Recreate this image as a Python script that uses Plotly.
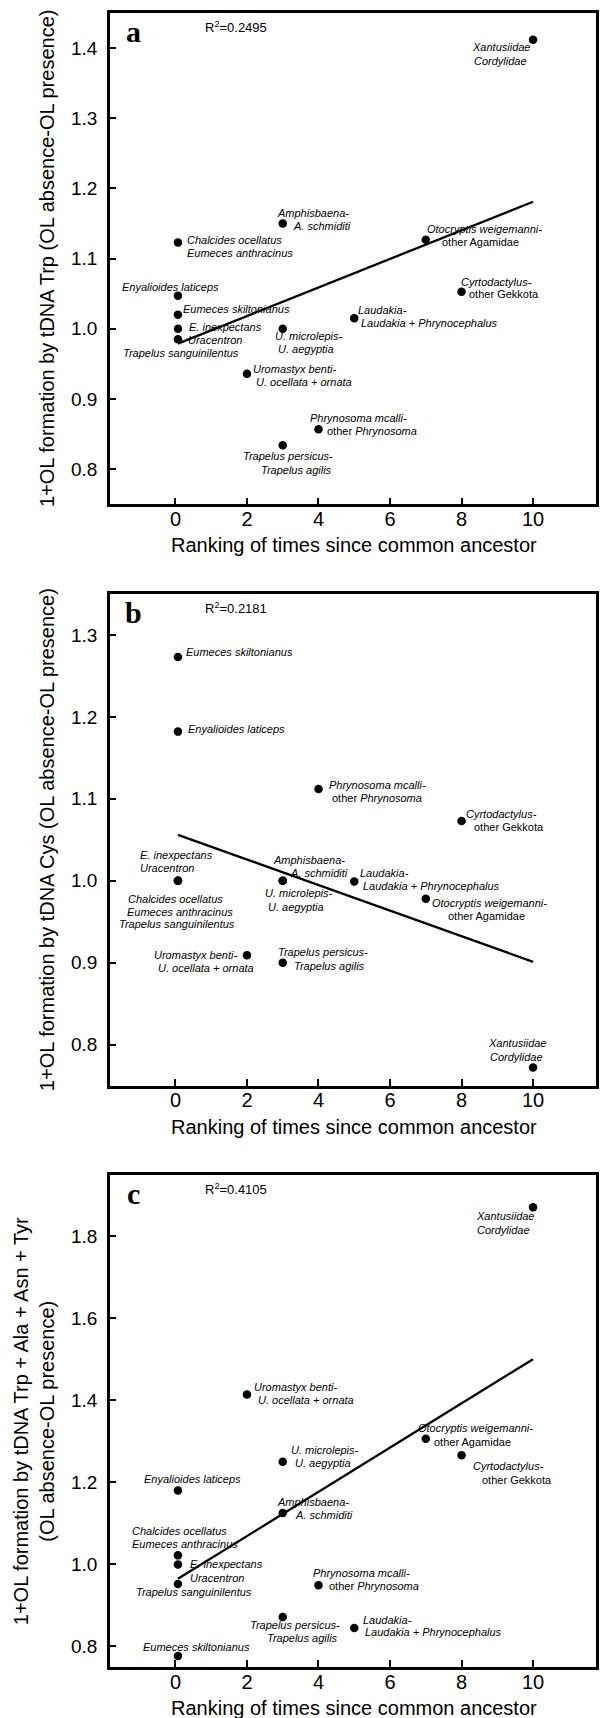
import plotly.graph_objects as go

# ---------------- data ----------------
groups = [
    "Xantusiidae-Cordylidae", "Amphisbaena-A. schmiditi",
    "Chalcides ocellatus / Eumeces anthracinus", "Otocryptis weigemanni-other Agamidae",
    "Cyrtodactylus-other Gekkota", "Enyalioides laticeps", "Eumeces skiltonianus",
    "E. inexpectans / Uracentron", "Trapelus sanguinilentus", "U. microlepis-U. aegyptia",
    "Laudakia-Laudakia + Phrynocephalus", "Uromastyx benti-U. ocellata + ornata",
    "Phrynosoma mcalli-other Phrynosoma", "Trapelus persicus-Trapelus agilis",
]
label_lines = [
    ["<i>Xantusiidae</i>", "<i>Cordylidae</i>"],
    ["<i>Amphisbaena-</i>", "<i>A. schmiditi</i>"],
    ["<i>Chalcides ocellatus</i>", "<i>Eumeces anthracinus</i>"],
    ["<i>Otocryptis weigemanni-</i>", "other Agamidae"],
    ["<i>Cyrtodactylus-</i>", "other Gekkota"],
    ["<i>Enyalioides laticeps</i>"],
    ["<i>Eumeces skiltonianus</i>"],
    ["<i>E. inexpectans</i>", "<i>Uracentron</i>"],
    ["<i>Trapelus sanguinilentus</i>"],
    ["<i>U. microlepis-</i>", "<i>U. aegyptia</i>"],
    ["<i>Laudakia-</i>", "<i>Laudakia + Phrynocephalus</i>"],
    ["<i>Uromastyx benti-</i>", "<i>U. ocellata + ornata</i>"],
    ["<i>Phrynosoma mcalli-</i>", "other <i>Phrynosoma</i>"],
    ["<i>Trapelus persicus-</i>", "<i>Trapelus agilis</i>"],
]
rank = [10, 3, 0.07, 7, 8, 0.07, 0.07, 0.07, 0.07, 3, 5, 2, 4, 3]
trp = [1.412, 1.150, 1.123, 1.127, 1.053, 1.047, 1.020, 1.000, 0.985, 1.000, 1.015, 0.936, 0.857, 0.834]
cys = [0.772, 1.000, 1.000, 0.978, 1.073, 1.182, 1.273, 1.000, 1.000, 1.000, 0.999, 0.909, 1.112, 0.900]
combined = [1.870, 1.125, 1.022, 1.306, 1.266, 1.180, 0.777, 1.000, 0.952, 1.250, 0.845, 1.414, 0.949, 0.872]

fit_x = [0.07, 10]
fit_trp = [0.979, 1.181]
fit_cys = [1.056, 0.901]
fit_combined = [0.965, 1.500]

r2_texts = ["R<sup>2</sup>=0.2495", "R<sup>2</sup>=0.2181", "R<sup>2</sup>=0.4105"]
panel_letters = ["a", "b", "c"]
y_titles = [
    "1+OL formation by tDNA Trp (OL absence-OL presence)",
    "1+OL formation by tDNA Cys (OL absence-OL presence)",
    "1+OL formation by tDNA Trp + Ala + Asn + Tyr<br>(OL absence-OL presence)",
]
x_title = "Ranking of times since common ancestor"
x_ticks = [0, 2, 4, 6, 8, 10]
y_ticks = [
    [0.8, 0.9, 1.0, 1.1, 1.2, 1.3, 1.4],
    [0.8, 0.9, 1.0, 1.1, 1.2, 1.3],
    [0.8, 1.0, 1.2, 1.4, 1.6, 1.8],
]

# ---------------- layout (positions in pixels) ----------------
W, H = 601, 1718
ML, MR, MT, MB = 110, 2, 13, 51
PW, PH = W - ML - MR, H - MT - MB

def px_x(px):
    return (px - ML) / PW

def px_y(py):
    return (H - MB - py) / PH

panels_px = [(13, 504.3), (594, 1085.5), (1174.5, 1667)]
y_ranges = [[0.75, 1.45], [0.75, 1.35], [0.75, 1.95]]
x_range = [-1.83, 11.76]

# label offsets (dx, dy in px relative to the marker; anchor)
offsets = [
    [  # panel a
        [(-62, 7.6, "left"), (-60, 21, "left")],
        [(-7, -11, "left"), (9, 2.7, "left")],
        [(7.6, -2.7, "left"), (7.6, 10.7, "left")],
        [(0, -10.5, "left"), (15, 2, "left")],
        [(-2, -10, "left"), (6.5, 2.6, "left")],
        [(-57, -8.7, "left")],
        [(4.5, -6, "left")],
        [(10, -1.4, "left"), (9, 11.6, "left")],
        [(-55.6, 13.4, "left")],
        [(-8.5, 7, "left"), (-5.4, 20, "left")],
        [(2.5, -8.3, "left"), (6, 4.4, "left")],
        [(5.3, -4.4, "left"), (8.4, 8.6, "left")],
        [(-9, -11, "left"), (7.5, 2, "left")],
        [(5.7, 11, "center"), (13.6, 24.4, "center")],
    ],
    [  # panel b
        [(-15.2, -24, "center"), (-17, -10.6, "center")],
        [(-11, -20.7, "left"), (6, -8, "left")],
        [(-2.5, 18.6, "center"), (2.5, 31.3, "center")],
        [(5, 4.3, "left"), (21.3, 17, "left")],
        [(3.4, -6.7, "left"), (11.7, 5.7, "left")],
        [(9, -3, "left")],
        [(7, -5.3, "left")],
        [(-39.4, -25.7, "left"), (-39.4, -12.4, "left")],
        [(-0.9, 43.3, "center")],
        [(-19, 12.6, "left"), (-16, 26, "left")],
        [(4.3, -9, "left"), (7.6, 4.4, "left")],
        [(-8.8, 0, "right"), (7.7, 13, "right")],
        [(9.6, -4, "left"), (13, 9.2, "left")],
        [(-5.7, -10.4, "left"), (10.4, 3, "left")],
    ],
    [  # panel c
        [(-58.4, 8.4, "left"), (-56.7, 22.4, "left")],
        [(-6.5, -10.6, "left"), (11.2, 2, "left")],
        [(-46.7, -24.4, "left"), (-46.7, -11.4, "left")],
        [(-8.7, -11, "left"), (7.3, 3.4, "left")],
        [(10, 11, "left"), (19.4, 24.3, "left")],
        [(14.6, -11.7, "center")],
        [(18.3, -9.3, "center")],
        [(11.5, 0, "left"), (11.5, 13.6, "left")],
        [(16, 8, "center")],
        [(7.3, -11.7, "left"), (11.2, 1.6, "left")],
        [(7.3, -8.3, "left"), (10, 4, "left")],
        [(6.5, -7.3, "left"), (10.4, 6, "left")],
        [(-6.7, -12.4, "left"), (10, 1, "left")],
        [(11.9, 8.4, "center"), (19.4, 21.4, "center")],
    ],
]

SANS = "Liberation Sans, Arial, sans-serif"
SERIF = "Liberation Serif, Times New Roman, serif"

series = [trp, cys, combined]
fits = [fit_trp, fit_cys, fit_combined]

fig = go.Figure()
annotations = []
layout_axes = {}

for i in range(3):
    xa = "x" if i == 0 else f"x{i+1}"
    ya = "y" if i == 0 else f"y{i+1}"
    top_px, bot_px = panels_px[i]
    dom = [px_y(bot_px), px_y(top_px)]

    fig.add_trace(go.Scatter(
        x=fit_x, y=fits[i], mode="lines", xaxis=xa, yaxis=ya,
        line=dict(color="black", width=2.3), showlegend=False, hoverinfo="skip"))
    fig.add_trace(go.Scatter(
        x=rank, y=series[i], mode="markers", xaxis=xa, yaxis=ya,
        marker=dict(color="black", size=8.5), text=groups, showlegend=False))

    axis_common = dict(
        showline=True, mirror=True, linecolor="black", linewidth=2.5,
        ticks="inside", tickcolor="black", tickwidth=2,
        showgrid=False, zeroline=False,
    )
    layout_axes["xaxis" if i == 0 else f"xaxis{i+1}"] = dict(
        axis_common, domain=[0, 1], range=x_range, anchor=ya,
        tickvals=x_ticks, ticklen=7, ticklabelstandoff=-5,
        tickfont=dict(family=SANS, size=20, color="black"))
    layout_axes["yaxis" if i == 0 else f"yaxis{i+1}"] = dict(
        axis_common, domain=dom, range=y_ranges[i], anchor=xa,
        tickvals=y_ticks[i], tickformat=".1f", ticklen=6, ticklabelstandoff=6,
        tickfont=dict(family=SANS, size=19, color="black"))

    # point labels
    for g in range(len(groups)):
        for line_txt, (dx, dy, anc) in zip(label_lines[g], offsets[i][g]):
            annotations.append(dict(
                x=rank[g], y=series[i][g], xref=xa, yref=ya,
                text=line_txt, showarrow=False, xanchor=anc, yanchor="middle",
                xshift=dx, yshift=-dy, borderpad=0,
                font=dict(family=SANS, size=11, color="black")))

    # x-axis title
    annotations.append(dict(
        x=px_x(355.9), y=px_y(bot_px + 41), xref="paper", yref="paper",
        text=x_title, showarrow=False, xanchor="center", yanchor="middle",
        font=dict(family=SANS, size=20, color="black")))
    # y-axis title
    annotations.append(dict(
        x=px_x(46 if i < 2 else 33), y=px_y((top_px + bot_px) / 2),
        xref="paper", yref="paper", text=y_titles[i], textangle=-90,
        showarrow=False, xanchor="center", yanchor="middle",
        font=dict(family=SANS, size=20, color="black")))
    # R2
    annotations.append(dict(
        x=px_x(204), y=px_y(top_px + 14), xref="paper", yref="paper",
        text=r2_texts[i], showarrow=False, xanchor="left", yanchor="middle",
        font=dict(family=SANS, size=13, color="black")))
    # panel letter
    annotations.append(dict(
        x=px_x(134), y=px_y(top_px + 18.5), xref="paper", yref="paper",
        text="<b>" + panel_letters[i] + "</b>", showarrow=False,
        xanchor="center", yanchor="middle",
        font=dict(family=SERIF, size=30, color="black")))

fig.update_layout(
    width=W, height=H,
    margin=dict(l=ML, r=MR, t=MT, b=MB),
    paper_bgcolor="white", plot_bgcolor="white",
    showlegend=False, annotations=annotations, **layout_axes)

fig.write_html("out.html",
               config={"displayModeBar": False},
               post_script="document.body.style.margin='0px';"
                           "document.body.style.overflow='hidden';")
